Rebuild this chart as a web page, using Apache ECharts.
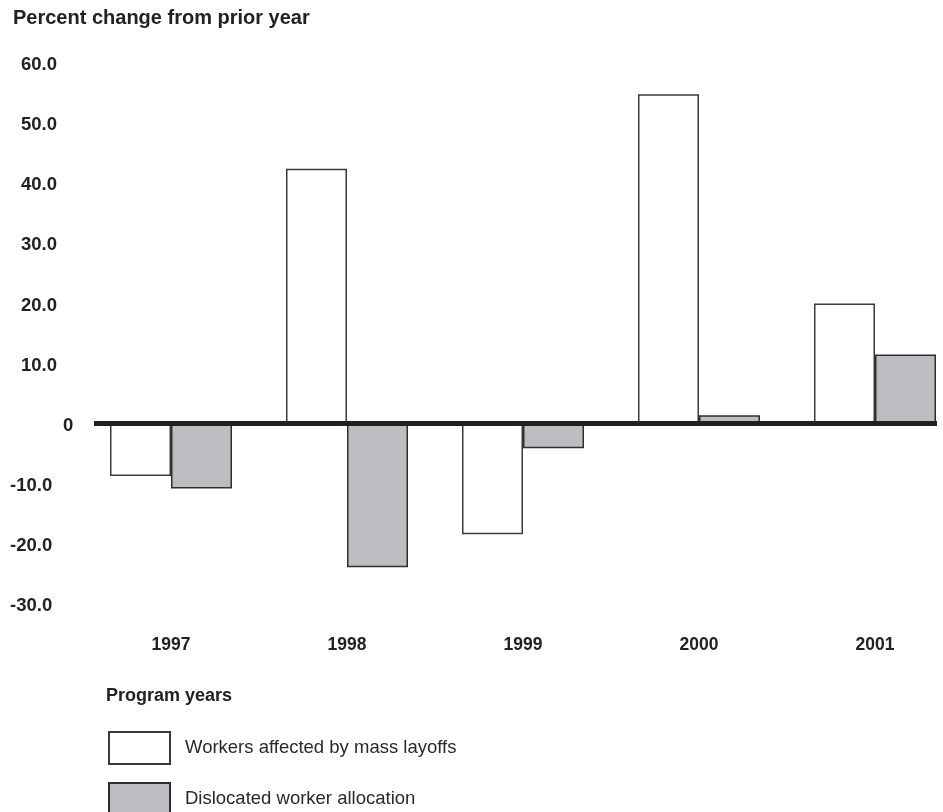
<!DOCTYPE html>
<html>
<head>
<meta charset="utf-8">
<script src="https://cdn.jsdelivr.net/npm/echarts@6/dist/echarts.min.js"></script>
<style>html,body{margin:0;padding:0;background:#fff;overflow:hidden;width:943px;height:812px;}#c{width:963px;height:812px;}</style>
</head>
<body>
<div id="c"></div>
<script>
const categories = ['1997', '1998', '1999', '2000', '2001'];
const massLayoffs = [-8.7, 42.4, -18.4, 54.8, 20.0];
const dislocatedAllocation = [-10.8, -23.9, -4.1, 1.4, 11.5];
const seriesNames = ['Workers affected by mass layoffs', 'Dislocated worker allocation'];
const yMin = -30, yMax = 60, yStep = 10;

const FONT = '"Liberation Sans", Arial, sans-serif';
const legendText = {fontFamily: FONT, fontSize: 18.5, color: '#2a2a2a', padding: [0, 0, 0, 10]};
const chart = echarts.init(document.getElementById('c'), null, {renderer: 'canvas'});
chart.setOption({
  backgroundColor: '#ffffff',
  animation: false,
  title: [
    {text: 'Percent change from prior year', left: 8, top: 3,
     textStyle: {fontFamily: FONT, fontSize: 20, fontWeight: 'bold', color: '#222'}},
    {text: 'Program years', left: 101, top: 682,
     textStyle: {fontFamily: FONT, fontSize: 18, fontWeight: 'bold', color: '#222'}}
  ],
  legend: [
    {left: 103, top: 726, itemWidth: 61, itemHeight: 32, icon: 'rect',
     textStyle: legendText, data: [seriesNames[0]]},
    {left: 103, top: 777, itemWidth: 61, itemHeight: 32, icon: 'rect',
     textStyle: legendText, data: [seriesNames[1]]}
  ],
  grid: [
    {left: 83, right: 0, top: 63, height: 541, containLabel: false},
    {left: 94, width: 843, top: 63, height: 541, containLabel: false}
  ],
  xAxis: [
    {
      type: 'category', data: categories, gridIndex: 0,
      axisLine: {show: false},
      axisTick: {show: false},
      axisLabel: {show: true, margin: 32, fontFamily: FONT, fontSize: 17.5, fontWeight: 'bold', color: '#222'},
      splitLine: {show: false}
    },
    {
      type: 'category', data: categories, gridIndex: 1, z: 3,
      axisLine: {show: true, onZero: true, lineStyle: {color: '#231f20', width: 5, cap: 'butt'}},
      axisTick: {show: false}, axisLabel: {show: false}, splitLine: {show: false}
    }
  ],
  yAxis: [
    {
      type: 'value', min: yMin, max: yMax, interval: yStep, gridIndex: 0,
      axisLine: {show: false}, axisTick: {show: false}, splitLine: {show: false},
      axisLabel: {
        align: 'left', margin: 73,
        formatter: function (v) {
          if (v === 0) return '{z|0}';
          if (v < 0) return '{n|' + v.toFixed(1) + '}';
          return '{p|' + v.toFixed(1) + '}';
        },
        rich: {
          p: {fontFamily: FONT, fontSize: 18.5, fontWeight: 'bold', color: '#222', padding: [4, 0, 0, 11]},
          n: {fontFamily: FONT, fontSize: 18.5, fontWeight: 'bold', color: '#222', padding: [4, 0, 0, 0]},
          z: {fontFamily: FONT, fontSize: 18.5, fontWeight: 'bold', color: '#222', padding: [4, 0, 0, 53]}
        }
      }
    },
    {
      type: 'value', min: yMin, max: yMax, interval: yStep, gridIndex: 1, show: false
    }
  ],
  series: [
    {
      name: seriesNames[0], type: 'bar', data: massLayoffs,
      barWidth: 61, barGap: '0%',
      itemStyle: {color: '#ffffff', borderColor: '#3a3a3a', borderWidth: 1.5}
    },
    {
      name: seriesNames[1], type: 'bar', data: dislocatedAllocation,
      barWidth: 61, barGap: '0%',
      itemStyle: {color: '#bcbdc1', borderColor: '#2e2e2e', borderWidth: 1.5}
    }
  ]
});
</script>
</body>
</html>
